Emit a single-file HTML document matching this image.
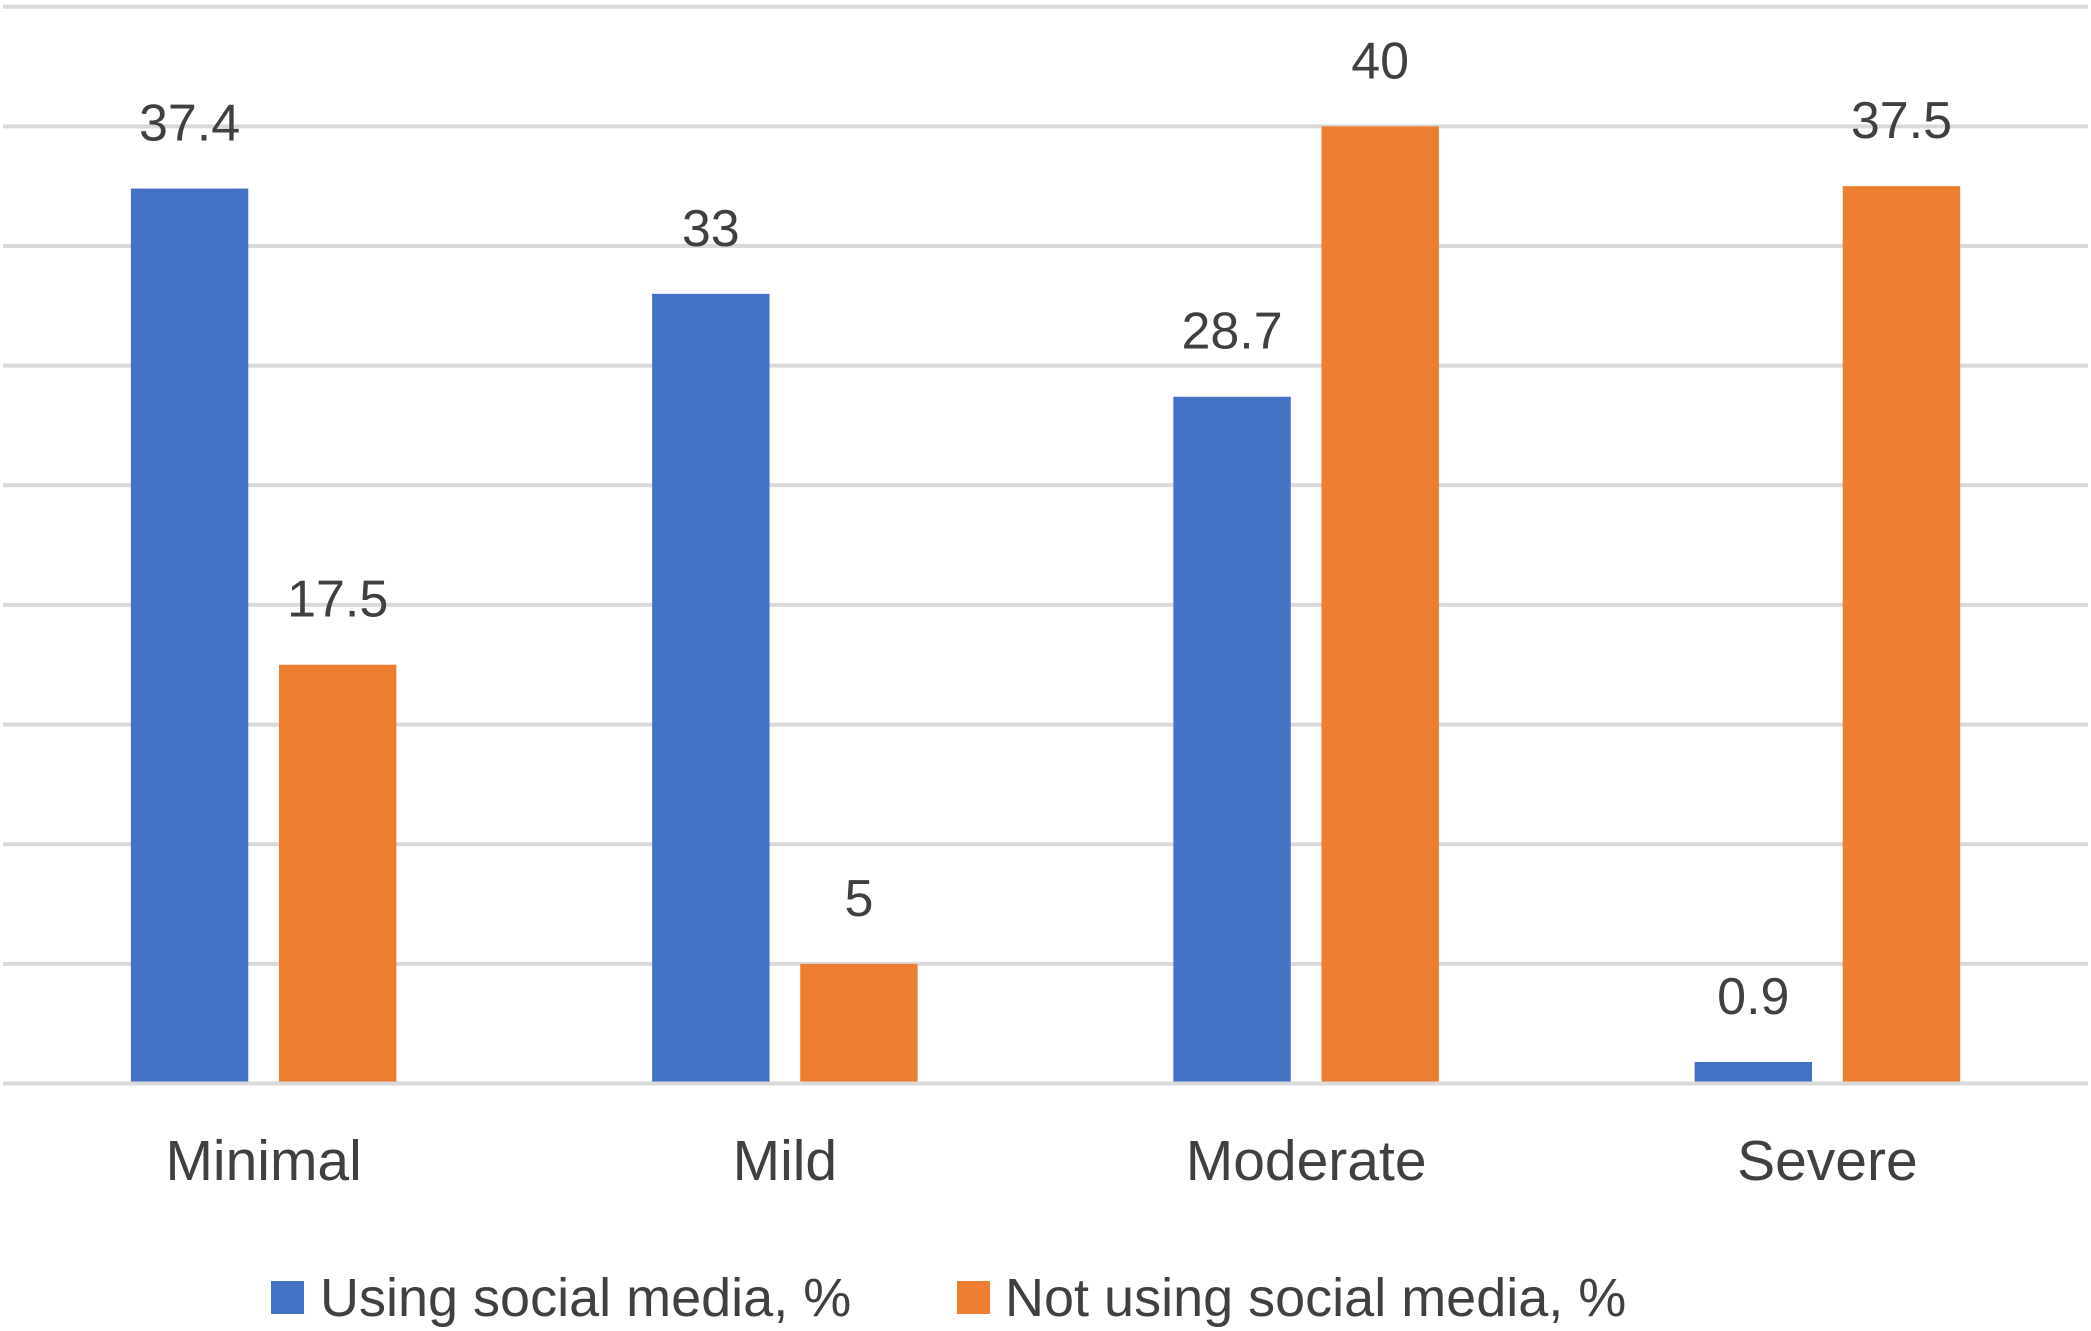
<!DOCTYPE html>
<html><head><meta charset="utf-8"><style>
html,body{margin:0;padding:0;background:#fff;}
svg{display:block;font-family:"Liberation Sans",sans-serif;}
</style></head><body>
<svg id="chart" width="2091" height="1331" viewBox="0 0 2091 1331"></svg>
<script>
const categories = ["Minimal","Mild","Moderate","Severe"];
const usingValues = [37.4,33,28.7,0.9];
const notUsingValues = [17.5,5,40,37.5];
const usingLabels = ["37.4","33","28.7","0.9"];
const notUsingLabels = ["17.5","5","40","37.5"];
const gridTicks = [0,5,10,15,20,25,30,35,40,45];

const NS="http://www.w3.org/2000/svg";
const svg=document.getElementById('chart');
const plotL=3, plotR=2088, y0=1083.5, yTop=6.7, maxV=45;
const catW=(plotR-plotL)/categories.length;
const barW=117.4, gap=30.7;
function yScale(v){return y0-(y0-yTop)*v/maxV;}
function catCenter(i){return plotL+catW*(i+0.5);}
function mk(tag,attrs){const e=document.createElementNS(NS,tag);for(const k in attrs)e.setAttribute(k,attrs[k]);svg.appendChild(e);return e;}

gridTicks.forEach((t,i)=>{
  const l=mk('line',{x1:plotL,x2:plotR,y1:yScale(t),y2:yScale(t),stroke:'#d9d9d9','stroke-width':4});
  
  
});

const series=[{vals:usingValues,labels:usingLabels,color:'#4472c4',off:-(gap/2+barW/2),name:'using'},
              {vals:notUsingValues,labels:notUsingLabels,color:'#ed7d31',off:(gap/2+barW/2),name:'not-using'}];
series.forEach(s=>{
  s.vals.forEach((v,i)=>{
    const cx=catCenter(i)+s.off;
    const r=mk('rect',{x:cx-barW/2,y:yScale(v),width:barW,height:y0-2-yScale(v),fill:s.color});
    
    
    const t=mk('text',{x:cx,y:yScale(v)-48,'text-anchor':'middle','font-size':52,fill:'#404040'});
    t.textContent=s.labels[i];
    
    
  });
});
categories.forEach((c,i)=>{
  const t=mk('text',{x:catCenter(i),y:1180,'text-anchor':'middle','font-size':57,fill:'#404040'});
  t.textContent=c;
  
  
});
const leg=[{x:271,tx:320,color:'#4472c4',label:'Using social media, %'},{x:957,tx:1005,color:'#ed7d31',label:'Not using social media, %'}];
leg.forEach(l=>{
  const r=mk('rect',{x:l.x,y:1281,width:33,height:33,fill:l.color});
  
  
  const t=mk('text',{x:l.tx,y:1316,'font-size':54,fill:'#404040'});
  t.textContent=l.label;
  
  
});
</script>
</body></html>
